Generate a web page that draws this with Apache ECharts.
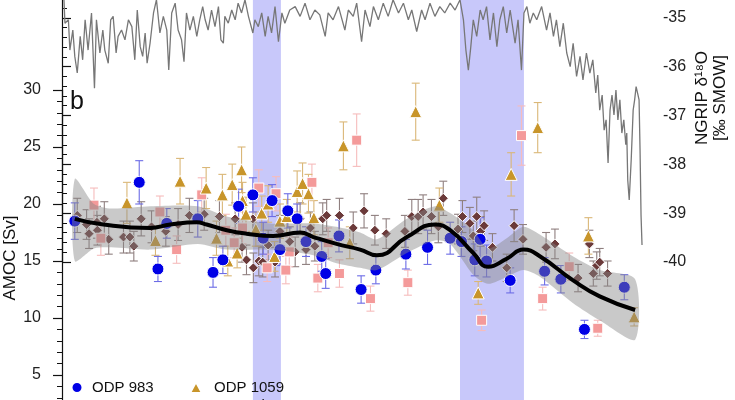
<!DOCTYPE html>
<html><head><meta charset="utf-8">
<script src="https://cdn.jsdelivr.net/npm/echarts@6/dist/echarts.min.js"></script>
<style>html,body{margin:0;padding:0;background:#fff;width:735px;height:400px;overflow:hidden;position:relative}
#c{position:absolute;left:0;top:-31px;width:735px;height:463px}</style>
</head><body><div id="c"></div>
<script>
// age (ka), AMOC (Sv), error (Sv)
const odp983 = [[0.26,18.5,1.6],[1.57,21.9,1.9],[1.95,14.3,1.1],[2.13,18.3,1.3],[2.76,18.7,1.6],[3.07,14.0,1.3],[3.27,15.1,1.2],[3.59,19.8,1.5],[3.88,20.8,1.5],[4.09,17.0,1.4],[4.27,20.3,1.4],[4.43,16.0,1.4],[4.59,19.4,1.5],[4.78,18.7,1.3],[4.96,16.7,1.3],[5.28,15.4,1.3],[5.36,13.9,1.3],[5.63,17.2,1.4],[6.08,12.5,1.2],[6.38,14.2,1.2],[6.99,15.6,1.3],[7.43,16.2,1.5],[7.89,17.0,1.4],[8.12,16.7,1.3],[8.39,15.1,1.4],[8.50,16.9,1.9],[8.63,15.0,1.4],[9.11,13.3,1.1],[9.81,14.1,1.2],[10.14,13.4,1.2],[10.62,9.0,0.8],[11.43,12.7,1.1]];
const odp1059 = [[1.32,20.1,1.8],[1.90,16.8,1.3],[2.40,22.0,2.0],[2.93,21.4,1.8],[3.14,17.0,1.5],[3.26,20.8,1.8],[3.37,15.0,1.3],[3.46,21.7,1.8],[3.56,15.7,1.3],[3.65,23.0,2.0],[3.67,20.3,1.6],[3.74,19.1,1.5],[3.94,17.8,1.5],[4.06,19.2,1.5],[4.19,20.0,1.6],[4.32,15.4,1.3],[4.43,18.5,1.5],[4.57,18.9,1.5],[4.78,21.1,1.8],[4.89,21.8,1.8],[5.01,20.9,1.7],[5.12,18.8,1.5],[5.72,25.1,2.1],[5.85,16.6,1.4],[7.19,28.1,2.5],[7.67,19.9,1.5],[8.46,12.2,1.0],[9.13,22.6,1.9],[9.67,26.7,2.2],[10.70,17.2,1.6],[11.63,10.1,0.8]];
const geob = [[0.65,19.9,1.5],[0.79,17.0,1.5],[1.99,19.3,1.4],[2.33,16.0,1.2],[2.84,20.8,1.5],[3.33,17.7,1.4],[3.50,16.6,1.3],[3.67,17.9,1.4],[4.00,21.4,1.6],[4.17,14.4,1.2],[4.35,20.9,1.5],[4.55,14.2,1.2],[4.62,15.8,1.3],[5.08,21.9,1.6],[5.20,13.5,1.2],[5.41,16.6,1.3],[5.64,13.9,1.2],[5.99,25.6,2.3],[6.27,11.7,1.1],[7.03,13.1,1.1],[8.53,9.8,0.9],[9.34,26.0,2.6],[9.77,11.7,1.0],[10.31,14.5,1.2],[10.89,9.1,0.7]];
const diamonds = [[0.31,19.0,1.5],[0.50,18.2,1.3],[0.55,17.4,1.3],[0.71,18.4,1.4],[0.72,17.7,1.3],[0.86,18.7,1.5],[0.95,16.9,1.3],[1.25,17.1,1.4],[1.38,17.1,1.4],[1.46,16.3,1.3],[1.61,18.7,1.5],[1.82,18.0,1.4],[2.11,17.6,1.3],[2.36,18.2,1.4],[2.59,19.0,1.5],[2.89,19.1,1.4],[3.20,18.9,1.4],[3.52,18.7,1.4],[3.66,16.2,1.3],[3.75,15.1,1.3],[3.88,18.7,1.4],[3.89,14.4,1.3],[4.00,15.0,1.3],[4.08,14.9,1.3],[4.19,16.4,1.3],[4.33,14.9,1.3],[4.43,17.6,1.4],[4.63,16.7,1.3],[4.74,15.8,1.3],[4.84,18.7,1.4],[4.96,16.0,1.3],[5.05,17.9,1.4],[5.14,16.3,1.3],[5.30,18.7,1.4],[5.38,19.0,1.4],[5.64,19.0,1.5],[5.92,17.9,1.4],[6.14,19.4,1.5],[6.36,17.7,1.3],[6.59,17.4,1.3],[6.97,17.6,1.4],[7.11,18.9,1.5],[7.24,18.9,1.5],[7.34,19.3,1.5],[7.51,18.9,1.5],[7.65,18.0,1.4],[7.75,20.5,1.5],[8.05,17.8,1.3],[8.14,18.9,1.4],[8.29,18.3,1.4],[8.36,17.2,1.3],[8.43,18.9,1.7],[8.51,17.6,1.3],[8.58,18.1,1.3],[8.75,16.2,1.2],[9.04,14.4,1.2],[9.19,18.1,1.4],[9.37,16.9,1.3],[9.84,16.2,1.3],[10.02,16.5,1.3],[10.49,13.5,1.2],[10.72,16.5,1.2],[10.80,13.9,1.1],[10.87,14.6,1.2],[10.93,14.9,1.2],[11.09,13.9,1.1]];
// GAM fit and its confidence band
const gamFit = [[0.26,18.7],[0.84,18.2],[1.79,17.9],[2.20,18.2],[2.74,18.4],[2.94,18.2],[3.35,17.7],[3.75,17.4],[4.29,17.2],[4.84,17.5],[5.11,17.1],[5.58,16.5],[6.06,16.0],[6.40,15.5],[7.01,17.1],[7.58,18.2],[7.89,17.7],[8.36,15.7],[8.66,14.5],[9.04,15.2],[9.38,16.0],[9.72,15.4],[10.39,13.3],[10.93,11.9],[11.65,10.7]];
const bandAge  = [0.26,0.65,1.0,1.8,2.76,3.35,4.24,5.11,5.58,6.06,6.40,7.01,7.58,7.89,8.36,8.66,9.04,9.38,9.72,10.39,10.93,11.65];
const bandLow  = [15.0,16.1,16.2,16.0,16.5,16.0,16.0,15.5,14.8,14.4,14.2,15.7,16.8,16.5,13.8,13.0,13.6,14.2,13.6,11.3,9.8,8.1];
const bandHigh = [22.2,20.0,19.6,19.8,19.8,18.9,18.3,18.3,18.0,17.5,16.9,18.7,19.8,19.2,17.7,16.1,17.0,18.0,17.3,15.4,14.2,13.4];
// NGRIP d18O (age ka, permil)
const ngrip = [[0.04,-34.63],[0.06,-35.11],[0.13,-35.04],[0.16,-35.66],[0.22,-35.25],[0.26,-35.79],[0.31,-36.13],[0.37,-35.38],[0.42,-35.86],[0.47,-35.04],[0.53,-35.66],[0.60,-34.90],[0.66,-36.44],[0.70,-35.04],[0.77,-35.72],[0.83,-35.25],[0.87,-35.66],[0.94,-35.93],[0.99,-35.04],[1.04,-34.97],[1.10,-35.72],[1.14,-35.38],[1.21,-35.25],[1.28,-35.45],[1.35,-35.04],[1.42,-35.18],[1.48,-35.86],[1.53,-34.84],[1.59,-35.59],[1.64,-35.79],[1.69,-35.31],[1.73,-35.93],[1.79,-35.52],[1.86,-34.90],[1.92,-34.63],[1.99,-35.31],[2.06,-34.97],[2.13,-35.25],[2.17,-36.07],[2.23,-34.90],[2.30,-34.70],[2.36,-35.25],[2.43,-35.45],[2.48,-35.90],[2.53,-34.90],[2.60,-35.25],[2.67,-34.97],[2.74,-35.38],[2.80,-35.04],[2.86,-34.77],[2.91,-35.04],[2.97,-35.25],[3.04,-34.84],[3.11,-35.18],[3.18,-34.77],[3.23,-35.45],[3.28,-35.52],[3.31,-34.97],[3.38,-35.11],[3.45,-34.84],[3.52,-35.04],[3.58,-34.70],[3.65,-34.90],[3.72,-34.63],[3.79,-34.97],[3.88,-35.31],[3.92,-35.04],[3.99,-35.18],[4.06,-34.90],[4.13,-35.38],[4.19,-34.97],[4.26,-35.31],[4.33,-34.77],[4.40,-35.49],[4.47,-34.90],[4.53,-35.11],[4.63,-34.84],[4.74,-34.77],[4.84,-34.97],[4.94,-34.70],[5.04,-35.04],[5.14,-34.84],[5.24,-34.94],[5.35,-35.38],[5.41,-34.90],[5.51,-35.04],[5.62,-34.77],[5.75,-35.25],[5.82,-34.84],[5.92,-34.97],[5.99,-34.70],[6.09,-35.49],[6.16,-34.84],[6.26,-35.18],[6.33,-34.77],[6.43,-35.04],[6.53,-34.70],[6.63,-34.97],[6.73,-34.63],[6.84,-34.90],[6.94,-34.70],[7.04,-35.04],[7.11,-34.84],[7.21,-35.28],[7.31,-34.84],[7.38,-35.04],[7.48,-34.70],[7.58,-34.97],[7.68,-34.77],[7.78,-34.90],[7.89,-34.70],[7.99,-34.84],[8.09,-34.63],[8.16,-35.04],[8.21,-35.66],[8.26,-36.07],[8.31,-35.59],[8.36,-35.04],[8.43,-35.38],[8.50,-34.84],[8.56,-35.04],[8.63,-34.77],[8.70,-35.45],[8.77,-34.90],[8.84,-35.59],[8.90,-35.04],[8.97,-34.77],[9.04,-35.31],[9.11,-34.84],[9.21,-35.52],[9.27,-35.04],[9.34,-36.07],[9.39,-34.90],[9.45,-34.77],[9.51,-35.11],[9.58,-34.90],[9.65,-35.04],[9.75,-34.77],[9.85,-35.25],[9.92,-34.90],[9.99,-35.38],[10.05,-35.04],[10.12,-35.59],[10.19,-35.11],[10.26,-35.72],[10.33,-36.00],[10.39,-35.52],[10.46,-36.20],[10.53,-35.79],[10.59,-36.27],[10.66,-35.72],[10.73,-36.13],[10.79,-35.86],[10.85,-36.54],[10.89,-36.17],[10.93,-36.89],[10.98,-36.58],[11.02,-37.30],[11.06,-37.09],[11.10,-37.97],[11.14,-36.89],[11.18,-36.58],[11.22,-36.99],[11.26,-36.48],[11.30,-37.09],[11.34,-36.68],[11.38,-37.36],[11.42,-37.09],[11.46,-37.60],[11.48,-37.36],[11.50,-38.32],[11.53,-38.73],[11.57,-37.91],[11.61,-36.89],[11.64,-36.68],[11.67,-36.41],[11.70,-36.54],[11.73,-36.68],[11.75,-37.70],[11.77,-39.04],[11.79,-39.65]];
// shaded event intervals (ka)
const events = [[3.88,4.45],[8.09,9.39]];
const amocTicks = {min:0, max:30, step:5};
const ngripTicks = {min:-40, max:-34, step:1};

const FONT = 'Liberation Sans, Arial, sans-serif';
const XMAX = 11.81;
const OFF = 31; // container starts 31px above the visible window
const chart = echarts.init(document.getElementById('c'), null, {renderer:'canvas'});

function errSeries(name, data, color) {
  return {
    type:'custom', name:name+' err', xAxisIndex:0, yAxisIndex:0, z:2, silent:true,
    data:data, encode:{x:0, y:1},
    renderItem:function(params, api){
      const x=api.value(0), y=api.value(1), e=api.value(2);
      const t=api.coord([x,y+e]), b=api.coord([x,y-e]);
      const w=4, st={stroke:color, lineWidth:1.1};
      return {type:'group', children:[
        {type:'line', shape:{x1:t[0],y1:t[1],x2:b[0],y2:b[1]}, style:st},
        {type:'line', shape:{x1:t[0]-w,y1:t[1],x2:t[0]+w,y2:t[1]}, style:st},
        {type:'line', shape:{x1:b[0]-w,y1:b[1],x2:b[0]+w,y2:b[1]}, style:st}
      ]};
    }
  };
}
function scat(name, data, symbol, size, color) {
  return {type:'scatter', name:name, xAxisIndex:0, yAxisIndex:0, z:3, data:data,
    symbol:symbol, symbolSize:size,
    itemStyle:{color:color, borderColor:'#fff', borderWidth:1, opacity:1}};
}

const hiddenX = (g)=>({type:'value', gridIndex:g, min:0, max:XMAX, show:false,
  axisLine:{show:false}, axisTick:{show:false}, axisLabel:{show:false}, splitLine:{show:false}});
const legendBase = {orient:'vertical', itemGap:3, itemWidth:12, itemHeight:11, top:375+OFF};

chart.setOption({
  animation:false,
  backgroundColor:'#fff',
  textStyle:{fontFamily:FONT},
  grid:[
    {left:62, right:92, top:90+OFF, bottom:0, outerBoundsMode:'none', containLabel:false},
    {left:62, right:92, top:0, bottom:170, outerBoundsMode:'none', containLabel:false},
    {left:62, right:92, top:0, bottom:0, outerBoundsMode:'none', containLabel:false}
  ],
  xAxis:[hiddenX(0), hiddenX(1), hiddenX(2)],
  yAxis:[
    {type:'value', gridIndex:0, min:amocTicks.min, max:amocTicks.max, interval:amocTicks.step,
     axisLine:{show:true, lineStyle:{color:'#111', width:1.2}},
     axisTick:{show:true, length:9, lineStyle:{color:'#111', width:1.2}},
     minorTick:{show:true, splitNumber:5, length:5, lineStyle:{color:'#111', width:1}},
     axisLabel:{fontSize:16, color:'#222', margin:21, fontFamily:FONT},
     splitLine:{show:false}},
    {type:'value', gridIndex:1, position:'right', min:ngripTicks.min, max:ngripTicks.max, interval:ngripTicks.step,
     axisLine:{show:true, lineStyle:{color:'#111', width:1.2}},
     axisTick:{show:true, length:9, lineStyle:{color:'#111', width:1.2}},
     minorTick:{show:true, splitNumber:5, length:5, lineStyle:{color:'#111', width:1}},
     axisLabel:{fontSize:16, color:'#222', margin:20, fontFamily:FONT, showMaxLabel:false},
     splitLine:{show:false}},
    {type:'value', gridIndex:2, min:0, max:1, show:false,
     axisLine:{show:false}, axisTick:{show:false}, axisLabel:{show:false}, splitLine:{show:false}}
  ],
  legend:[
    Object.assign({left:65, textStyle:{fontSize:15, color:'#111', fontFamily:FONT, padding:[0,0,0,4]},
      data:['ODP 983','GeoB10529-3']}, legendBase),
    Object.assign({left:184, textStyle:{fontSize:15, color:'#111', fontFamily:FONT, padding:[0,0,0,7]},
      data:['ODP 1059','GAM Fit']}, legendBase)
  ],
  graphic:[
    {type:'text', left:70, top:90+OFF, style:{text:'b', fontSize:25, fill:'#111', fontFamily:FONT}},
    {type:'text', x:10, y:258+OFF, rotation:Math.PI/2,
     style:{text:'AMOC [Sv]', fontSize:17, fill:'#111', fontFamily:FONT, align:'center', verticalAlign:'middle'}},
    {type:'text', x:711, y:98+OFF, rotation:Math.PI/2,
     style:{text:'NGRIP δ¹⁸O\n[‰ SMOW]', fontSize:17, lineHeight:18, fill:'#111', fontFamily:FONT,
            align:'center', verticalAlign:'middle'}}
  ],
  series:[
    {type:'custom', name:'events', xAxisIndex:2, yAxisIndex:2, z:0, silent:true,
     data:events, encode:{x:[0,1]},
     renderItem:function(params, api){
       const a=api.coord([api.value(0),0]), b=api.coord([api.value(1),0]);
       const cs=params.coordSys;
       return {type:'rect', shape:{x:a[0], y:cs.y, width:b[0]-a[0], height:cs.height},
               style:{fill:'rgb(200,200,250)'}};
     }},
    {type:'line', name:'NGRIP', xAxisIndex:1, yAxisIndex:1, z:1, data:ngrip,
     symbol:'none', lineStyle:{color:'#777', width:1.3}, silent:true},
    errSeries('diamonds', diamonds, '#8f7f7f'),
    errSeries('GeoB10529-3', geob, '#f6bcbc'),
    errSeries('ODP 1059', odp1059, '#dab777'),
    errSeries('ODP 983', odp983, '#6c6ce6'),
    scat('Diamond record', diamonds, 'diamond', 10, '#6b3a3a'),
    scat('GeoB10529-3', geob, 'rect', 10, '#f49a9a'),
    scat('ODP 1059', odp1059, 'triangle', 12, '#c8952a'),
    scat('ODP 983', odp983, 'circle', 12, '#0000e6'),
    {type:'custom', name:'ci', xAxisIndex:0, yAxisIndex:0, z:4, silent:true,
     data:[[bandAge[0], bandLow[0]]], encode:{x:0, y:1},
     renderItem:function(params, api){
       const pts=[];
       for (let i=0;i<bandAge.length;i++) pts.push(api.coord([bandAge[i], bandHigh[i]]));
       for (let i=bandAge.length-1;i>=0;i--) pts.push(api.coord([bandAge[i], bandLow[i]]));
       return {type:'polygon', shape:{points:pts, smooth:0.25},
               style:{fill:'rgba(135,135,135,0.45)'}};
     }},
    {type:'line', name:'GAM Fit', xAxisIndex:0, yAxisIndex:0, z:5, data:gamFit,
     symbol:'none', smooth:0.5, lineStyle:{color:'#000', width:4}, itemStyle:{color:'#000'}}
  ]
});
</script></body></html>
